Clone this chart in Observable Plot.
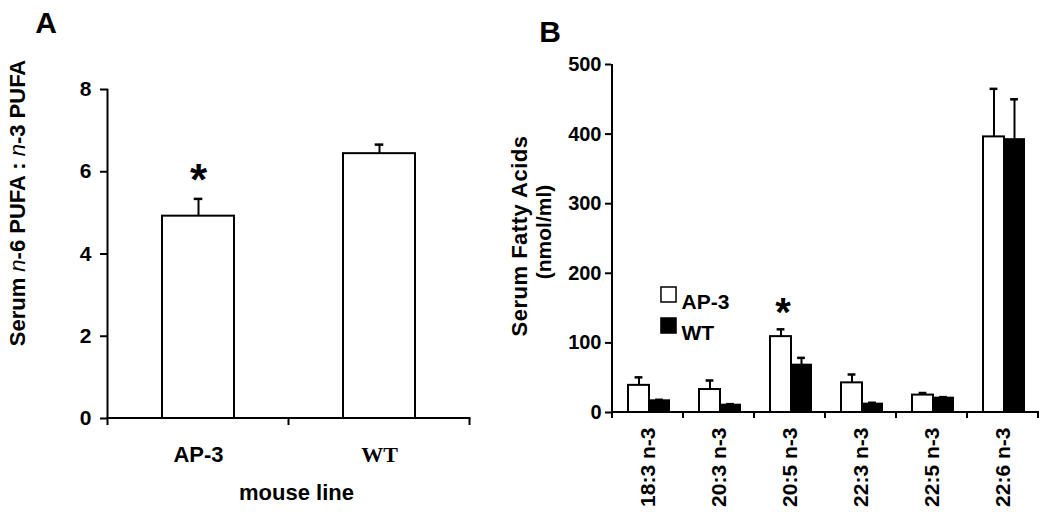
<!DOCTYPE html>
<html><head><meta charset="utf-8">
<script src="https://cdn.jsdelivr.net/npm/d3@7"></script>
<script src="https://cdn.jsdelivr.net/npm/@observablehq/plot@0.6"></script>
<style>
html,body{margin:0;padding:0;background:#fff;}
#wrap{position:relative;width:1050px;height:515px;overflow:hidden;font-family:"Liberation Sans",Arial,sans-serif;}
#a{position:absolute;left:0;top:0;}
#b{position:absolute;left:500px;top:0;}
</style></head><body>
<div id="wrap"><div id="a"></div><div id="b"></div></div>
<script>
// ---- Panel A data ----
const linesA = ["AP-3", "WT"];
const ratioMean = [4.92, 6.44];
const ratioSem = [0.42, 0.22];
const ticksA = [0, 2, 4, 6, 8];
const starA = ["AP-3"];

// ---- Panel B data ----
const acids = ["18:3 n-3", "20:3 n-3", "20:5 n-3", "22:3 n-3", "22:5 n-3", "22:6 n-3"];
const seriesB = ["AP-3", "WT"];
const ap3Mean = [39, 33, 109, 42.6, 25, 396];
const ap3Sem = [11.5, 13, 10.5, 12, 3, 69];
const wtMean = [16.8, 10.5, 68, 12, 20.6, 392];
const wtSem = [1.5, 1.5, 10.5, 2, 1.5, 58];
const ticksB = [0, 100, 200, 300, 400, 500];
const starB = ["20:5 n-3"];

const SANS = "Liberation Sans, Arial, sans-serif";
const SERIF = "Liberation Serif, Times New Roman, serif";

// Excel-like axis lines with ticks at category boundaries, drawn from the plot's scales
function excelAxes(tickLen) {
  return function (...args) {
    const scales = args.find(a => a && typeof a.x === "function" && typeof a.y === "function");
    const x = scales.x, y = scales.y;
    const dom = x.domain();
    const rng = x.range();
    const step = x.step ? x.step() : (rng[1] - rng[0]) / dom.length;
    const bw = x.bandwidth ? x.bandwidth() : step;
    const edges = dom.map(d => x(d) + bw / 2 - step / 2);
    edges.push(edges[edges.length - 1] + step);
    const y0 = y(0), yTop = y(y.domain()[1]);
    const g = d3.create("svg:g").attr("stroke", "#000").attr("stroke-width", 2).attr("fill", "none");
    g.append("line").attr("x1", edges[0]).attr("x2", edges[0]).attr("y1", yTop).attr("y2", y0);
    g.append("line").attr("x1", edges[0] - 1).attr("x2", edges[edges.length - 1] + 1).attr("y1", y0).attr("y2", y0);
    for (const e of edges) g.append("line").attr("x1", e).attr("x2", e).attr("y1", y0).attr("y2", y0 + tickLen);
    return g.node();
  };
}

// ---------- Panel A ----------
const dataA = linesA.map((l, i) => ({line: l, mean: ratioMean[i], sem: ratioSem[i]}));
const plotA = Plot.plot({
  width: 500, height: 515,
  marginLeft: 108, marginRight: 30, marginTop: 89, marginBottom: 97,
  style: {fontFamily: SANS, fontWeight: "bold", color: "#000", background: "#fff", overflow: "visible"},
  x: {domain: linesA, paddingInner: 0.6, paddingOuter: 0.3},
  y: {domain: [0, 8]},
  marks: [
    Plot.barY(dataA, {x: "line", y: "mean", fill: "white", stroke: "black", strokeWidth: 2}),
    Plot.ruleX(dataA, {x: "line", y1: "mean", y2: d => d.mean + d.sem, stroke: "black", strokeWidth: 2}),
    Plot.tickY(dataA, {x: "line", y: d => d.mean + d.sem, insetLeft: 31.7, insetRight: 31.7, stroke: "black", strokeWidth: 2.5}),
    Plot.text(dataA.filter(d => starA.includes(d.line)), {x: "line", y: d => d.mean + d.sem, text: () => "*", dy: -18, fontSize: 44, fontFamily: SANS}),
    Plot.axisY({ticks: ticksA, tickSize: 8, tickPadding: 9, fontSize: 21, fontWeight: "bold", label: null, strokeWidth: 2}),
    Plot.axisX({tickSize: 0, tickPadding: 28, fontSize: 22, fontWeight: "bold", label: "mouse line", labelAnchor: "center", labelOffset: 81}),
    excelAxes(7)
  ]
});
document.getElementById("a").appendChild(plotA);
{
  const s = d3.select(plotA);
  s.selectAll("text").filter(function () { return this.textContent === "WT"; })
    .attr("font-family", SERIF).attr("font-size", 22);
  s.selectAll("text").filter(function () { return this.textContent === "mouse line"; })
    .attr("dx", 7).attr("font-size", 22);
  s.append("text").attr("x", 46).attr("y", 33).attr("font-size", 30).attr("font-weight", "bold")
    .attr("font-family", SANS).attr("fill", "#000").text("A");
  const t = s.append("text").attr("transform", "translate(25,203) rotate(-90)")
    .attr("text-anchor", "middle").attr("font-size", 22).attr("font-weight", "bold")
    .attr("font-family", SANS).attr("fill", "#000");
  t.append("tspan").text("Serum ");
  t.append("tspan").attr("font-style", "italic").attr("font-weight", "normal").text("n");
  t.append("tspan").text("-6 PUFA : ");
  t.append("tspan").attr("font-style", "italic").attr("font-weight", "normal").text("n");
  t.append("tspan").text("-3 PUFA");
}

// ---------- Panel B ----------
const dataB = acids.flatMap((a, i) => [
  {acid: a, group: "AP-3", mean: ap3Mean[i], sem: ap3Sem[i]},
  {acid: a, group: "WT", mean: wtMean[i], sem: wtSem[i]}
]);
const styleB = {
  "AP-3": {fill: "white", l: 16, r: 34, dx: -9, cl: 22.6, cr: 40.6},
  "WT": {fill: "black", l: 37, r: 14, dx: 11.5, cl: 43.1, cr: 20.1}
};
const barMarks = seriesB.flatMap(s => {
  const st = styleB[s];
  const d = dataB.filter(r => r.group === s);
  return [
    Plot.barY(d, {x: "acid", y: "mean", fill: st.fill, stroke: "black", strokeWidth: 2, insetLeft: st.l, insetRight: st.r}),
    Plot.ruleX(d, {x: "acid", y1: "mean", y2: r => r.mean + r.sem, dx: st.dx, stroke: "black", strokeWidth: 2}),
    Plot.tickY(d, {x: "acid", y: r => r.mean + r.sem, insetLeft: st.cl, insetRight: st.cr, stroke: "black", strokeWidth: 2.5})
  ];
});
const legendMarks = seriesB.flatMap((s, i) => [
  Plot.dot([s], {frameAnchor: "top-left", dx: 57, dy: 230 + 31 * i, symbol: "square", r: 8.5,
    fill: styleB[s].fill, stroke: "black", strokeWidth: 1.5}),
  Plot.text([s], {frameAnchor: "top-left", dx: 70, dy: 230 + 31 * i, text: d => d, textAnchor: "start",
    fontSize: 21, fontWeight: "bold", fontFamily: SANS})
]);
const plotB = Plot.plot({
  width: 550, height: 515,
  marginLeft: 111, marginRight: 12, marginTop: 64, marginBottom: 103,
  style: {fontFamily: SANS, fontWeight: "bold", color: "#000", background: "#fff", overflow: "visible"},
  x: {domain: acids, padding: 0},
  y: {domain: [0, 500]},
  marks: [
    ...barMarks,
    Plot.text(dataB.filter(r => r.group === "AP-3" && starB.includes(r.acid)),
      {x: "acid", y: r => r.mean + r.sem, text: () => "*", dx: -7, dy: -16, fontSize: 40, fontFamily: SANS}),
    ...legendMarks,
    Plot.axisY({ticks: ticksB, tickSize: 6, tickPadding: 4, fontSize: 20, fontWeight: "bold", label: null, strokeWidth: 2}),
    Plot.axisX({tickRotate: -90, tickSize: 0, tickPadding: 15, fontSize: 21, fontWeight: "bold", label: null}),
    excelAxes(6)
  ]
});
document.getElementById("b").appendChild(plotB);
{
  const s = d3.select(plotB);
  s.append("text").attr("x", 50).attr("y", 42).attr("font-size", 30).attr("font-weight", "bold")
    .attr("font-family", SANS).attr("fill", "#000").text("B");
  s.append("text").attr("transform", "translate(27,236) rotate(-90)").attr("text-anchor", "middle")
    .attr("font-size", 22).attr("letter-spacing", 0.5).attr("font-weight", "bold").attr("font-family", SANS).attr("fill", "#000")
    .text("Serum Fatty Acids");
  s.append("text").attr("transform", "translate(51,232) rotate(-90)").attr("text-anchor", "middle")
    .attr("font-size", 21).attr("font-weight", "bold").attr("font-family", SANS).attr("fill", "#000")
    .text("(nmol/ml)");
}
</script>
</body></html>
